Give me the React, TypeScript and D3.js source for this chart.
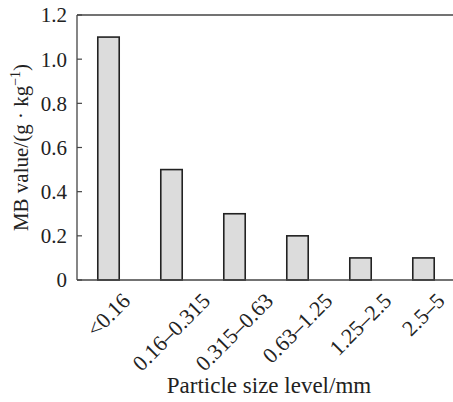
import React, { useLayoutEffect, useRef } from 'react';
import * as d3 from 'd3';

// particle size classes and MB values
const categories = ['<0.16', '0.16\u20130.315', '0.315\u20130.63', '0.63\u20131.25', '1.25\u20132.5', '2.5\u20135'];
const mbValues = [1.1, 0.5, 0.3, 0.2, 0.1, 0.1];
const yTicks = [0, 0.2, 0.4, 0.6, 0.8, 1.0, 1.2];

const width = 453;
const height = 402;
const margin = { top: 15, right: 0, bottom: 122, left: 77 };
const font = '"Liberation Serif", "DejaVu Serif", serif';
const labelSize = 22;

export default function App() {
  const ref = useRef<SVGSVGElement>(null);

  const x = d3.scaleBand<string>()
    .domain(categories)
    .range([margin.left, 455])
    .paddingInner(0.66)
    .paddingOuter(0.33);

  const y = d3.scaleLinear()
    .domain([0, 1.2])
    .range([height - margin.bottom, margin.top]);

  const x0 = margin.left;
  const xEnd = width;

  // place rotated labels so their box is centred under the bar, top just below the axis
  useLayoutEffect(() => {
    const capH = labelSize * 0.66;
    const k = Math.SQRT1_2;
    d3.select(ref.current).selectAll<SVGTextElement, string>('text.xlab').each(function () {
      const c = this.getAttribute('data-cat')!;
      const L = this.getComputedTextLength();
      const mx = x(c)! + x.bandwidth() / 2 + capH * k / 2;
      const my = y(0) + 12 + (L / 2 + capH) * k;
      d3.select(this)
        .attr('x', mx)
        .attr('y', my)
        .attr('transform', `rotate(-45, ${mx}, ${my})`);
    });
  }, []);

  return (
    <svg ref={ref} width={width} height={height} style={{ position: 'absolute', left: 0, top: 0 }} fontFamily={font}>
      {/* bars */}
      {categories.map((c, i) => (
        <rect key={c}
          x={x(c)!} y={y(mbValues[i])}
          width={x.bandwidth()} height={y(0) - y(mbValues[i])}
          fill="#dcdcdc" stroke="#222" strokeWidth={1.6} />
      ))}

      {/* axes frame */}
      <line x1={x0} x2={xEnd} y1={y(0)} y2={y(0)} stroke="#444" strokeWidth={1.3} />
      <line x1={x0} x2={xEnd} y1={y(1.2)} y2={y(1.2)} stroke="#444" strokeWidth={1.3} />
      <line x1={x0} x2={x0} y1={y(0)} y2={y(1.2)} stroke="#444" strokeWidth={1.3} />

      {/* y ticks */}
      {yTicks.map(t => (
        <g key={t}>
          <line x1={x0} x2={x0 + 5} y1={y(t)} y2={y(t)} stroke="#444" strokeWidth={1.2} />
          <text x={x0 - 10} y={y(t)} dy="0.35em" textAnchor="end" fontSize={21} fill="#222">
            {t === 0 ? '0' : t.toFixed(1)}
          </text>
        </g>
      ))}

      {/* x tick labels, rotated */}
      {categories.map(c => (
        <text key={c} className="xlab" data-cat={c} textAnchor="middle" fontSize={labelSize} fill="#222">{c}</text>
      ))}

      {/* axis titles */}
      <text x={269} y={393} textAnchor="middle" fontSize={23} fill="#222">
        Particle size level/mm
      </text>
      <text transform={`translate(28, ${(y(0) + y(1.2)) / 2}) rotate(-90)`} textAnchor="middle" fontSize={21} fill="#222">
        MB value/(g · kg<tspan fontSize={14} dy={-8}>−1</tspan><tspan dy={8}>)</tspan>
      </text>
    </svg>
  );
}
